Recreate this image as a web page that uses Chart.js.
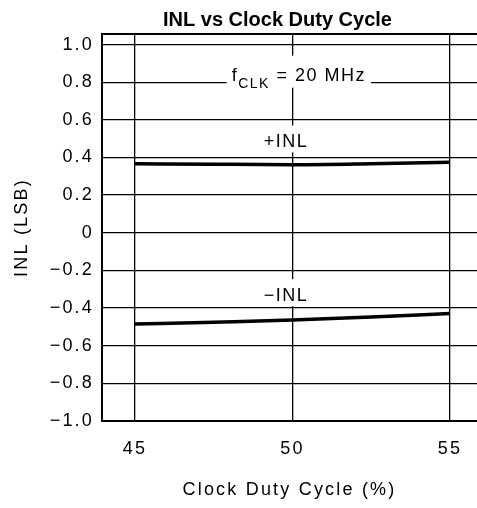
<!DOCTYPE html>
<html>
<head>
<meta charset="utf-8">
<script src="https://cdn.jsdelivr.net/npm/chart.js@4.4.0/dist/chart.umd.min.js"></script>
<style>
  html, body { margin: 0; padding: 0; background: #fff; }
  #wrap { width: 477px; height: 508px; }
</style>
</head>
<body>
<div id="wrap"><canvas id="inlChart"></canvas></div>
<script>
// values
const dutyCycle = [45, 47.5, 50, 52.5, 55];
const inlPos = [0.367, 0.364, 0.362, 0.367, 0.375];
const inlNeg = [-0.485, -0.475, -0.464, -0.448, -0.429];
const xTicks = [45, 50, 55];
const yTicks = [-1.0, -0.8, -0.6, -0.4, -0.2, 0, 0.2, 0.4, 0.6, 0.8, 1.0];

const FONT = "'Liberation Sans', Arial, sans-serif";

const spacing = { // wide letter spacing like the original plot lettering
    id: 'spacing',
    beforeDraw(chart) { chart.ctx.letterSpacing = '2.2px'; }
};

const frame = { // top edge of the plot box (right edge is cut off by the picture)
    id: 'frame',
    beforeDatasetsDraw(chart) {
        const {ctx, chartArea: a} = chart;
        ctx.save();
        ctx.strokeStyle = '#000';
        ctx.lineWidth = 2;
        ctx.beginPath();
        ctx.moveTo(a.left, a.top);
        ctx.lineTo(a.right, a.top);
        ctx.stroke();
        ctx.restore();
    }
};

const notes = { // in-plot labels with white boxes over the grid
    id: 'notes',
    afterDatasetsDraw(chart) {
        const {ctx, scales: {x, y}} = chart;
        ctx.save();
        ctx.letterSpacing = '1.5px';
        ctx.fillStyle = '#000';
        ctx.textBaseline = 'alphabetic';

        // f_CLK = 20 MHz
        let cx = x.getPixelForValue(50.2), cy = y.getPixelForValue(0.84);
        ctx.font = '18px ' + FONT;
        const wf = ctx.measureText('f').width;
        const wr = ctx.measureText(' = 20 MHz').width;
        ctx.font = '14px ' + FONT;
        const ws = ctx.measureText('CLK').width;
        const tw = wf + ws + wr;
        ctx.fillStyle = '#fff';
        ctx.fillRect(cx - tw / 2 - 5, cy - 19, tw + 10, 32);
        ctx.fillStyle = '#000';
        let px = cx - tw / 2;
        ctx.font = '18px ' + FONT;
        ctx.fillText('f', px, cy + 6);
        ctx.font = '14px ' + FONT;
        ctx.fillText('CLK', px + wf, cy + 13);
        ctx.font = '18px ' + FONT;
        ctx.fillText(' = 20 MHz', px + wf + ws, cy + 6);

        // +INL / -INL
        ctx.textAlign = 'center';
        ctx.textBaseline = 'middle';
        [['+INL', 0.48], ['\u2212INL', -0.337]].forEach(([t, v]) => {
            const lx = x.getPixelForValue(49.76), ly = y.getPixelForValue(v);
            const w = ctx.measureText(t).width;
            ctx.fillStyle = '#fff';
            ctx.fillRect(lx - w / 2 - 6, ly - 17, w + 12, 27);
            ctx.fillStyle = '#000';
            ctx.fillText(t, lx + 1, ly);
        });
        ctx.restore();
    },
    afterDraw(chart) { // chart title
        const {ctx, chartArea: a} = chart;
        ctx.save();
        ctx.letterSpacing = '0px';
        ctx.font = 'bold 20px ' + FONT;
        ctx.fillStyle = '#000';
        ctx.textAlign = 'center';
        ctx.textBaseline = 'middle';
        ctx.fillText('INL vs Clock Duty Cycle', (a.left + a.right) / 2 - 12, 20);
        ctx.restore();
    }
};

const ctx = document.getElementById('inlChart').getContext('2d');

const inlChart = new Chart(ctx, {
    type: 'line',
    data: {
        labels: dutyCycle,
        datasets: [{
            label: '+INL',
            data: dutyCycle.map((d, i) => ({x: d, y: inlPos[i]})),
            borderColor: '#000',
            borderWidth: 3.5,
            pointRadius: 0,
            fill: false,
            cubicInterpolationMode: 'monotone'
        }, {
            label: '-INL',
            data: dutyCycle.map((d, i) => ({x: d, y: inlNeg[i]})),
            borderColor: '#000',
            borderWidth: 3.5,
            pointRadius: 0,
            fill: false,
            cubicInterpolationMode: 'monotone'
        }]
    },
    options: {
        responsive: true,
        maintainAspectRatio: false,
        animation: false,
        layout: { padding: { top: 34, right: 0, left: 0, bottom: 0 } },
        plugins: {
            legend: { display: false },
            title: { display: false },
            tooltip: { enabled: false }
        },
        scales: {
            x: {
                type: 'linear',
                min: 43.95,
                max: 55.86,
                afterBuildTicks: (s) => { s.ticks = xTicks.map(v => ({value: v})); },
                afterFit: (s) => { s.height = 87; },
                grid: { color: '#000', lineWidth: 1.3, drawTicks: false },
                border: { color: '#000', width: 2 },
                ticks: {
                    color: '#000',
                    padding: 17,
                    maxRotation: 0,
                    font: { family: FONT, size: 18 },
                    callback: (v) => String(v)
                },
                title: {
                    display: true,
                    text: 'Clock Duty Cycle (%)',
                    color: '#000',
                    font: { family: FONT, size: 18 },
                    padding: { top: 0, bottom: 7 }
                }
            },
            y: {
                min: -1.0,
                max: 1.056,
                afterBuildTicks: (s) => { s.ticks = yTicks.map(v => ({value: v})); },
                afterFit: (s) => { s.width = 102; },
                grid: { color: '#000', lineWidth: 1.3, drawTicks: false },
                border: { color: '#000', width: 2 },
                ticks: {
                    color: '#000',
                    padding: 8,
                    font: { family: FONT, size: 18 },
                    callback: (v) => v === 0 ? '0' : v.toFixed(1).replace('-', '\u2212')
                },
                title: {
                    display: true,
                    text: 'INL (LSB)',
                    color: '#000',
                    font: { family: FONT, size: 18 },
                    padding: { top: 11, bottom: 0 }
                }
            }
        }
    },
    plugins: [spacing, frame, notes]
});
</script>
</body>
</html>
